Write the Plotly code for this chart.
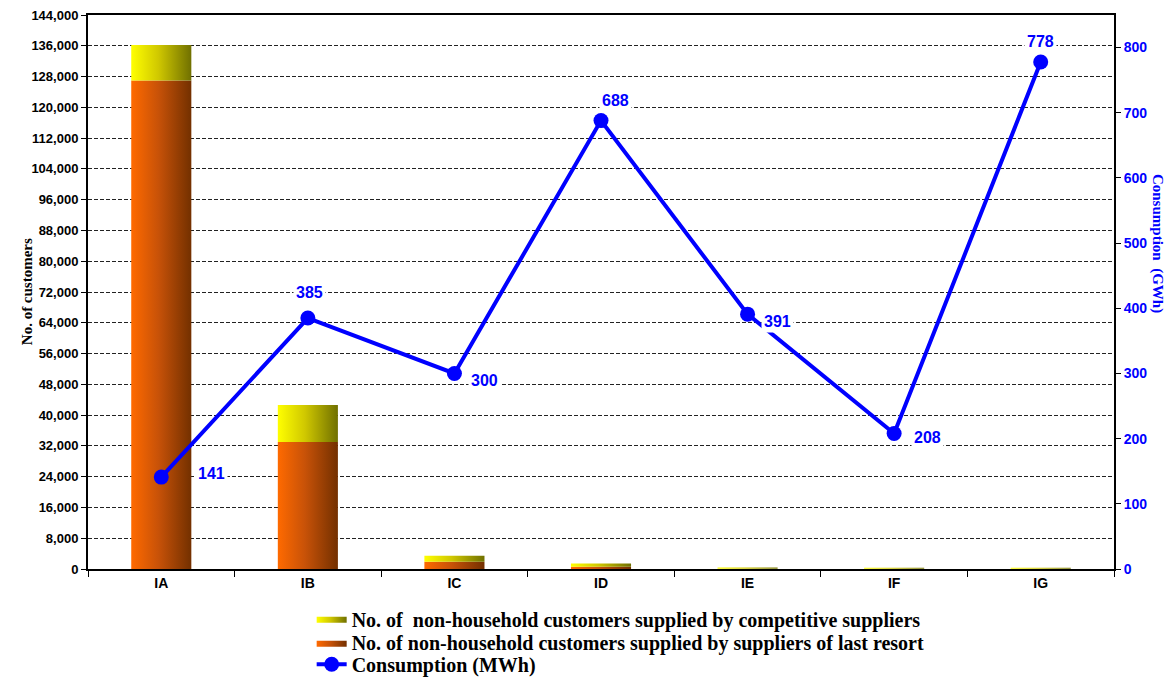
import plotly.graph_objects as go

categories = ["IA", "IB", "IC", "ID", "IE", "IF", "IG"]
last_resort = [127000, 33000, 1900, 600, 60, 40, 40]
competitive = [9200, 9600, 1560, 800, 300, 300, 300]
consumption = [141, 385, 300, 688, 391, 208, 778]
left_ticks = list(range(0, 144001, 8000))
right_ticks = list(range(0, 801, 100))

# label offsets (pixels) for consumption labels
label_shift = [(50, 4), (2, 26), (30, -7), (14, 20), (30, -7), (33, -4), (0, 20)]

BAR_W = 0.41
SERIF = "Liberation Serif, Times New Roman, serif"
SANS = "Liberation Sans, Arial, sans-serif"
LEG_FONT = dict(family=SERIF, size=20, color="black")

fig = go.Figure()

def bar_poly(i, base, top):
    x0, x1 = i - BAR_W / 2, i + BAR_W / 2
    return [x0, x1, x1, x0, x0], [base, base, top, top, base]

for i, cat in enumerate(categories):
    xs, ys = bar_poly(i, 0, last_resort[i])
    fig.add_trace(go.Scatter(
        x=xs, y=ys, mode="lines", fill="toself", line=dict(width=0, color="rgba(0,0,0,0)"),
        fillgradient=dict(type="horizontal", colorscale=[[0, "#ff6a00"], [0.45, "#c85208"], [1, "#733000"]]),
        fillcolor="#c05010",
        name="<b>No. of non-household customers supplied by suppliers of last resort</b>",
        legend="legend2", showlegend=(i == 0), hoverinfo="skip"))
for i, cat in enumerate(categories):
    xs, ys = bar_poly(i, last_resort[i], last_resort[i] + competitive[i])
    fig.add_trace(go.Scatter(
        x=xs, y=ys, mode="lines", fill="toself", line=dict(width=0, color="rgba(0,0,0,0)"),
        fillgradient=dict(type="horizontal", colorscale=[[0, "#ffff00"], [0.45, "#d0c800"], [1, "#707000"]]),
        fillcolor="#c0c000",
        name="<b>No. of&nbsp; non-household customers supplied by competitive suppliers</b>",
        legend="legend", showlegend=(i == 0), hoverinfo="skip"))

fig.add_trace(go.Scatter(
    x=list(range(len(categories))), y=consumption, yaxis="y2", mode="lines+markers",
    line=dict(color="#0000ff", width=4), marker=dict(color="#0000ff", size=15),
    name="<b>Consumption (MWh)</b>", legend="legend3"))

for i, v in enumerate(consumption):
    dx, dy = label_shift[i]
    fig.add_annotation(x=i, y=v, xref="x", yref="y2", text=f"<b>{v}</b>", showarrow=False,
                       xshift=dx, yshift=dy, bgcolor="white", borderpad=2,
                       font=dict(family=SANS, size=16, color="#0000ff"))

fig.add_annotation(xref="paper", yref="paper", x=-0.069, y=0.5, text="<b>No. of customers</b>",
                   textangle=-90, showarrow=False, font=dict(family=SERIF, size=15, color="black"))
fig.add_annotation(xref="paper", yref="paper", x=1.052, y=0.587, text="<b>Consumption  (GWh)</b>",
                   textangle=90, showarrow=False, font=dict(family=SERIF, size=15, color="#0000ff"))

def leg(y):
    return dict(x=0.218, y=y, xanchor="left", yanchor="middle", orientation="v",
                font=LEG_FONT, bgcolor="rgba(0,0,0,0)", itemwidth=30)

fig.update_layout(
    width=1175, height=677, margin=dict(l=88, r=61, t=15, b=108, autoexpand=False),
    paper_bgcolor="white", plot_bgcolor="white",
    showlegend=True,
    legend=leg(-0.090), legend2=leg(-0.133), legend3=leg(-0.172),
    xaxis=dict(range=[-0.5, len(categories) - 0.5], tickvals=list(range(len(categories))),
               ticktext=[f"<b>{c}</b>" for c in categories], ticks="", showgrid=False,
               zeroline=False, showline=True, linecolor="black", linewidth=2, mirror=True,
               tickfont=dict(family=SANS, size=14, color="black"),
               minor=dict(tickvals=[i + 0.5 for i in range(-1, len(categories))], ticks="outside",
                          ticklen=6, tickwidth=1, tickcolor="black", showgrid=False)),
    yaxis=dict(range=[0, 144000], tickvals=left_ticks,
               ticktext=[f"<b>{t:,}</b>" for t in left_ticks], ticks="outside", ticklen=5,
               tickcolor="black", showgrid=True, gridcolor="#222", gridwidth=1,
               griddash="4px,2px", zeroline=False, showline=True, linecolor="black", linewidth=2,
               tickfont=dict(family=SANS, size=13, color="black")),
    yaxis2=dict(range=[0, 850], overlaying="y", side="right", tickvals=right_ticks,
                ticktext=[f"<b>{t}</b>" for t in right_ticks], ticks="outside", ticklen=5,
                tickcolor="black", showgrid=False, zeroline=False, showline=True,
                linecolor="black", linewidth=2,
                tickfont=dict(family=SANS, size=14, color="#0000ff")),
)

fig.write_html("out.html")
